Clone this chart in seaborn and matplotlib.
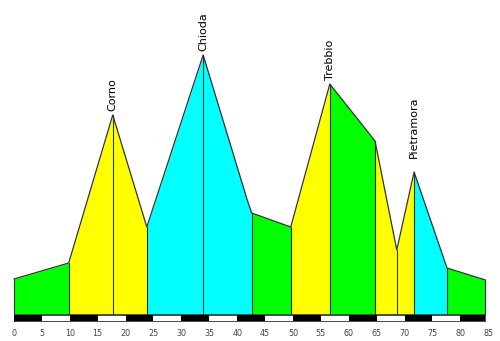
import matplotlib
matplotlib.use("Agg")
import matplotlib.pyplot as plt
import seaborn as sns
import numpy as np
import pandas as pd

# Route profile: distance (km) and altitude (m)
km = [0.0, 9.8, 17.7, 23.8, 33.9, 41.8, 42.6, 49.6, 56.6, 64.7, 68.6, 71.7, 77.6, 84.5]
alt = [240, 304, 896, 448, 1136, 556, 504, 448, 1020, 792, 356, 668, 284, 236]

# Coloured stretches of the route (start km, end km, colour)
seg_start = [0.0, 9.8, 23.8, 42.6, 49.6, 56.6, 64.7, 71.7, 77.6]
seg_end = [9.8, 23.8, 42.6, 49.6, 56.6, 64.7, 71.7, 77.6, 84.5]
seg_color = ["#00ff00", "#ffff00", "#00ffff", "#00ff00", "#ffff00",
             "#00ff00", "#ffff00", "#00ffff", "#00ff00"]

# Climbs named on the profile
peak_names = ["Corno", "Chioda", "Trebbio", "Pietramora"]
peak_km = [17.7, 33.9, 56.6, 71.7]
peak_alt = [896, 1136, 1020, 668]

# Other marked points (valley between climbs)
mark_km = [68.6]

tick_km = list(range(0, 90, 5))

sns.set_style("white")
fig = plt.figure(figsize=(5.0, 3.41), dpi=100)
ax = fig.add_axes([0, 0, 1, 1])
ax.set_xlim(-2.509, 87.10)
ax.set_ylim(-8, 1356)
ax.axis("off")

base = 100
df = pd.DataFrame({"km": km, "alt": alt})
x = np.array(km)
y = np.array(alt)

for s, e, c in zip(seg_start, seg_end, seg_color):
    m = (x >= s - 1e-9) & (x <= e + 1e-9)
    ax.fill_between(x[m], base, y[m], color=c, linewidth=0, zorder=1)

# vertical separators at stretch boundaries, summits and marked points
sep = sorted(set(seg_start + seg_end + peak_km + mark_km))
for xi in sep:
    yi = np.interp(xi, x, y)
    ax.plot([xi, xi], [base, yi], color="#333333", linewidth=0.8, zorder=2)

sns.lineplot(data=df, x="km", y="alt", ax=ax, color="#333333",
             linewidth=0.9, zorder=3, sort=False)
ax.plot([km[0], km[-1]], [base, base], color="#333333", linewidth=0.6, zorder=3)

# distance strip: alternating 5 km blocks
for i, t in enumerate(tick_km[:-1]):
    right = min(t + 5, km[-1])
    ax.fill_between([t, right], 72, 96, color="black" if i % 2 == 0 else "white",
                    linewidth=0, zorder=2)
ax.plot([0, km[-1], km[-1], 0, 0], [72, 72, 96, 96, 72], color="black",
        linewidth=0.5, zorder=3)

for t in tick_km:
    ax.text(t, 24, str(t), ha="center", va="center", fontsize=5.8,
            color="#444444", family="DejaVu Sans")

offsets = [3, 3, 3, 10]
for name, pk, pa, off in zip(peak_names, peak_km, peak_alt, offsets):
    ax.annotate(name, (pk, pa), xytext=(0, off), textcoords="offset points",
                rotation=90, ha="center", va="bottom", fontsize=8,
                color="black")

ax.set_xlabel("")
ax.set_ylabel("")
fig.savefig("out.png", dpi=100)
